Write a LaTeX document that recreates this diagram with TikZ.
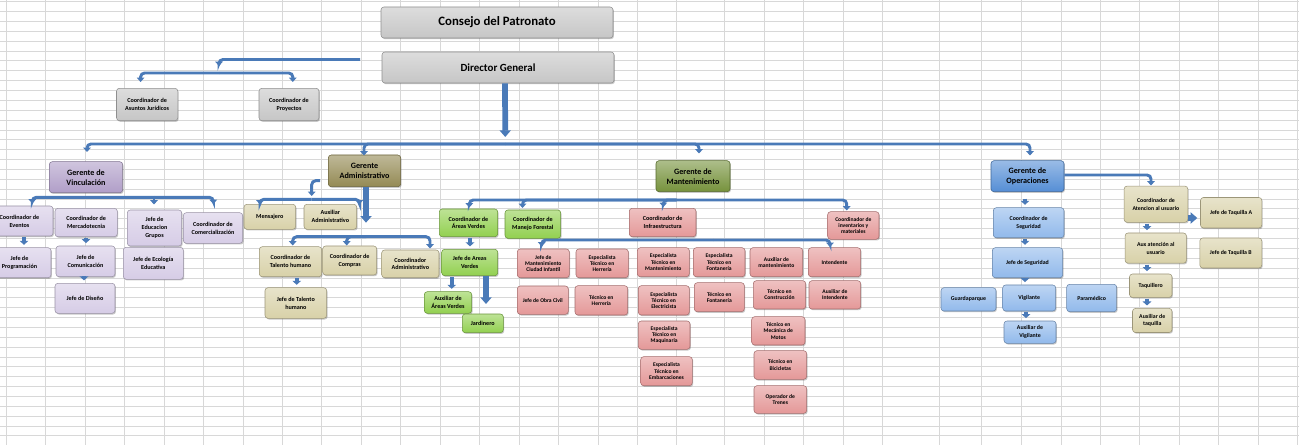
\documentclass[tikz,border=0pt]{standalone}
\usepackage{fontspec}
\setmainfont{Carlito}
\usetikzlibrary{arrows.meta,calc,shadows}
\definecolor{gridc}{RGB}{216,216,216}
\definecolor{lnc}{RGB}{74,122,184}
\definecolor{cgray}{RGB}{198,198,198}
\definecolor{cpurD}{RGB}{176,158,200}
\definecolor{cpur}{RGB}{214,204,230}
\definecolor{coliveD}{RGB}{148,138,84}
\definecolor{cbeige}{RGB}{216,209,168}
\definecolor{cgreenD}{RGB}{118,146,60}
\definecolor{cgreen}{RGB}{146,208,80}
\definecolor{cpink}{RGB}{228,152,152}
\definecolor{cblueD}{RGB}{85,142,213}
\definecolor{cblue}{RGB}{145,185,235}
\newcommand\bx[7]{%
  \pgfmathsetmacro\bxw{((#4)-(#2))*0.75}%
  \pgfmathsetmacro\bxh{((#5)-(#3))*0.75}%
  \pgfmathsetmacro\bxx{((#2)+(#4))/2}%
  \pgfmathsetmacro\bxy{((#3)+(#5))/2}%
  \node[#6, minimum width=\bxw pt, minimum height=\bxh pt] (#1) at (\bxx,\bxy) {#7};}
\tikzset{
  box/.style={rounded corners=2.2pt, inner sep=0pt, align=center, text=black,
    line width=0.4pt, drop shadow={shadow xshift=0.7pt, shadow yshift=-0.9pt, opacity=0.3, fill=black!70}},
  fillc/.style={box, draw=#1!72!black, top color=#1!60!white, bottom color=#1},
  fA/.style={font=\bfseries\fontsize{9.6}{11}\selectfont},
  fB/.style={font=\bfseries\fontsize{8.2}{10}\selectfont},
  fG/.style={font=\bfseries\fontsize{6.1}{7.5}\selectfont},
  sm/.style={font=\bfseries\fontsize{4.6}{5.9}\selectfont},
  sb/.style={font=\bfseries\fontsize{4.4}{5.9}\selectfont},
  gy/.style={fillc=cgray, sm},
  pu/.style={fillc=cpur, sm},
  be/.style={fillc=cbeige, sm},
  gr/.style={fillc=cgreen, sm},
  pk/.style={fillc=cpink, font=\bfseries\fontsize{4.2}{4.7}\selectfont},
  bl/.style={fillc=cblue, sb},
  ln/.style={draw=lnc, line width=2.2pt, rounded corners=3pt, -{Triangle[width=5.5pt,length=3.2pt]}},
  barrow/.style={draw=lnc, line width=3pt, shorten <=0.8pt, shorten >=2pt, -{Triangle[width=6.5pt,length=3pt]}},
  big/.style={draw=lnc, line width=4.3pt, -{Triangle[width=8.3pt,length=5pt]}},
}
\begin{document}
\begin{tikzpicture}[x=0.75pt,y=-0.75pt]
\path[use as bounding box] (0,0) rectangle (1299,445);
\clip (0,0) rectangle (1299,445);
\fill[white] (0,0) rectangle (1299,445);
% grid
\foreach \gx in {6.2,45.6,85,124.4,164.2,203.6,243.4,282.7,321.7,361.1,400.5,440.3,479.7,519.1,558.5,598.3,637.6,676.8,724.9,764.3,803.6,843.4,882.8,939.2,981.9,1021.3,1061.1,1100.5,1139.9,1179.3,1218.7,1258.1,1297.8}
  \draw[gridc, line width=0.75pt] (\gx,0) -- (\gx,445);
\foreach \k in {0,...,45}
  \draw[gridc, line width=0.75pt] (0,{1.7+9.87*\k}) -- (1299,{1.7+9.87*\k});

% top
\bx{consejo}{381}{7}{613}{38}{fillc=cgray, fA}{Consejo del Patronato}
\bx{director}{382}{52}{614}{83}{fillc=cgray, fB}{Director General}
\bx{asj}{116.5}{88.3}{177.8}{120.7}{gy}{Coordinador de\\Asuntos Jurídicos}
\bx{proy}{259}{88.3}{319}{120.7}{gy}{Coordinador de\\Proyectos}

% Vinculacion
\bx{vinc}{49.3}{161.7}{122.7}{192.7}{fillc=cpurD, fG}{Gerente de\\Vinculación}
\bx{eventos}{-14}{206}{53}{236}{pu}{Coordinador de\\Eventos}
\bx{merc}{55}{208.3}{117.3}{236.7}{pu}{Coordinador de\\Mercadotecnia}
\bx{edu}{127.3}{210}{181.7}{246}{pu}{Jefe de\\Educacion\\Grupos}
\bx{comer}{183.3}{212.7}{242.7}{243.3}{pu}{Coordinador de\\Comercialización}
\bx{prog}{-12}{247.7}{51}{277.7}{pu}{Jefe de\\Programación}
\bx{comu}{56}{246}{115}{276.7}{pu}{Jefe de\\Comunicación}
\bx{eco}{123.3}{247.3}{183.3}{279.3}{pu}{Jefe de Ecología\\Educativa}
\bx{dis}{55}{283.3}{115}{313.3}{pu}{Jefe de Diseño}

% Administrativo
\bx{gadm}{328.3}{155}{400.7}{186.7}{fillc=coliveD, fG}{Gerente\\Administrativo}
\bx{mens}{244}{204.3}{295.7}{229.3}{be}{Mensajero}
\bx{auxadm}{304}{204.3}{356.7}{229.3}{be}{Auxiliar\\Administrativo}
\bx{cth}{259.3}{246.7}{321.7}{276.7}{be}{Coordinador de\\Talento humano}
\bx{comp}{322.7}{246}{376.7}{275}{be}{Coordinador de\\Compras}
\bx{cadm}{381.7}{250}{439}{277.7}{be}{Coordinador\\Administrativo}
\bx{jth}{265}{287.7}{326.7}{318.3}{be}{Jefe de Talento\\humano}

% Mantenimiento
\bx{gman}{656}{160.7}{730}{191.7}{fillc=cgreenD, fG}{Gerente de\\Mantenimiento}
\bx{cav}{439.3}{209}{497.7}{236.7}{gr}{Coordinador de\\Áreas Verdes}
\bx{cmf}{505}{210}{560.7}{238.3}{gr}{Coordinador de\\Manejo Forestal}
\bx{jav}{441.7}{249.3}{497.7}{275.7}{gr}{Jefe de Areas\\Verdes}
\bx{aav}{424.3}{291.7}{471.7}{313.3}{gr}{Auxiliar de\\Áreas Verdes}
\bx{jard}{462.3}{314}{503.3}{332.7}{gr}{Jardinero}
\bx{cinf}{629.3}{208.3}{696}{236.7}{fillc=cpink, sm}{Coordinador de\\Infraestructura}
\bx{cinv}{827.7}{211.7}{879}{239.3}{pk}{Coordinador de\\inventarios y\\materiales}
\bx{jmci}{517.3}{249}{569.3}{277.7}{pk}{Jefe de\\Mantenimiento\\Ciudad Infantil}
\bx{eth}{576}{249}{628.3}{277.7}{pk}{Especialista\\Técnico en\\Herrería}
\bx{etm}{637.3}{247.7}{689.3}{276.7}{pk}{Especialista\\Técnico en\\Mantenimiento}
\bx{etf}{693.3}{247.7}{745}{276.7}{pk}{Especialista\\Técnico en\\Fontanería}
\bx{joc}{517.3}{286}{568.3}{314.3}{pk}{Jefe de Obra Civil}
\bx{tHe}{575}{285.7}{627.7}{315}{pk}{Técnico en\\Herrería}
\bx{ete}{638.3}{285.7}{689.3}{315}{pk}{Especialista\\Técnico en\\Electricista}
\bx{tFo}{694.3}{282.7}{744.3}{311.7}{pk}{Técnico en\\Fontanería}
\bx{etq}{638.3}{321}{690}{349.3}{pk}{Especialista\\Técnico en\\Maquinaria}
\bx{etb}{640.7}{356.7}{692.3}{385.7}{pk}{Especialista\\Técnico en\\Embarcaciones}
\bx{aum}{750}{247.7}{802.7}{276.7}{pk}{Auxiliar de\\mantenimiento}
\bx{inte}{808.3}{247.7}{860.7}{276.7}{pk}{Intendente}
\bx{tco}{753.3}{280.7}{805.7}{309}{pk}{Técnico en\\Construcción}
\bx{ain}{809}{280.7}{860.7}{309}{pk}{Auxiliar de\\Intendente}
\bx{tmm}{751.7}{316.7}{805}{345}{pk}{Técnico en\\Mecánica de\\Motos}
\bx{tbi}{754}{350.7}{806.7}{379.3}{pk}{Técnico en\\Bicicletas}
\bx{otr}{754}{385.7}{806.7}{413.3}{pk}{Operador de\\Trenes}

% Operaciones
\bx{gop}{991}{160.7}{1064}{191.7}{fillc=cblueD, fG}{Gerente de\\Operaciones}
\bx{cseg}{993.3}{207.7}{1064}{237.7}{bl}{Coordinador de\\Seguridad}
\bx{jseg}{992.3}{247.7}{1062.7}{277.7}{bl}{Jefe de Seguridad}
\bx{guard}{941}{287.7}{996}{311}{bl}{Guardaparque}
\bx{vig}{1002.7}{285}{1055.7}{311}{bl}{Vigilante}
\bx{param}{1066.7}{284.3}{1116.7}{311.7}{bl}{Paramédico}
\bx{auxvig}{1004}{321}{1056}{343.3}{bl}{Auxiliar de\\Vigilante}
\bx{cat}{1124.1}{186.1}{1187.8}{222.3}{fillc=cbeige, sb}{Coordinador de\\Atencion al usuario}
\bx{jta}{1200.5}{197.5}{1261.8}{228}{fillc=cbeige, sb}{Jefe de Taquilla A}
\bx{jtb}{1199.8}{238}{1261.8}{268}{fillc=cbeige, sb}{Jefe de Taquilla B}
\bx{auxat}{1125.1}{233}{1186.4}{263.2}{fillc=cbeige, sb}{Aux atención al\\usuario}
\bx{taq}{1129.5}{274}{1172}{297.4}{fillc=cbeige, sb}{Taquillero}
\bx{auxtaq}{1132.5}{308.4}{1172}{332.5}{fillc=cbeige, sb}{Auxiliar de\\taquilla}

% ---------- connectors ----------
\coordinate (dl) at (360,59.5);
\coordinate (hubL) at (219,73);
\coordinate (hubM) at (505,144);
\coordinate (hubV) at (154,197.3);
\coordinate (a1) at (320,180.7);
\coordinate (hubA1) at (311.7,199.3);
\coordinate (hubA2) at (366,236.7);
\coordinate (hubMt) at (676.7,200);
\coordinate (hubI) at (713,240);

\draw[ln] (dl) -| (219,66);
\draw[ln] (hubL) -| (140.6,82);
\draw[ln] (hubL) -| (292.8,82);
\draw[big] ([xshift=5.25pt]director.south) -- (505.25,137);

\draw[ln] (hubM) -| (87,152);
\draw[ln] (hubM) -| (364,155.5);
\draw[ln] (hubM) -| (699,153.5);
\draw[ln] (hubM) -| (1030,155.5);

\draw[ln] (hubV) -| (32.3,203.5);
\draw[ln] (hubV) -| (213.3,204);
\draw[ln] (hubV) -- (154,204.5);
\draw[barrow] (eventos.south -| 24,0) -- (prog.north -| 24,0);
\draw[barrow] (merc.south -| 86,0) -- (comu.north -| 86,0);
\draw[barrow] (comu.south -| 84,0) -- (dis.north -| 84,0);

\draw[ln] (a1) -| (311.7,196);
\draw[ln] (hubA1) -| (260,204.5);
\draw[ln] (hubA1) -| (359.3,204.5);
\draw[big] (gadm.south -| 366,0) -- (366,222.7);
\draw[ln] (hubA2) -| (292.7,245.5);
\draw[ln] (hubA2) -| (346.7,245.5);
\draw[ln] (hubA2) -| (430,248.5);
\draw[barrow] (cth.south -| 296.7,0) -- (jth.north -| 296.7,0);

\draw[ln] (hubMt) -| (469.3,207.5);
\draw[ln] (hubMt) -| (522.5,208);
\draw[ln] (hubMt) -| (663.3,207);
\draw[ln] (hubMt) -| (846.7,210.5);
\draw[barrow] (cav.south -| 470,0) -- (jav.north -| 470,0);
\draw[barrow] (jav.south -| 451.7,0) -- (aav.north -| 451.7,0);
\draw[big] (jav.south -| 486,0) -- (486,304);
\draw[ln] (hubI) -| (541.7,246.5);
\draw[ln] (hubI) -| (830,247);

\draw[barrow, shorten <=5pt] (gop.south -| 1025,0) -- (cseg.north -| 1025,0);
\draw[barrow] (cseg.south -| 1025,0) -- (jseg.north -| 1025,0);
\draw[barrow] (jseg.south -| 1025,0) -- (vig.north -| 1025,0);
\draw[barrow] (vig.south -| 1026,0) -- (auxvig.north -| 1026,0);

\draw[ln] (gop.east |- 0,175) -| (1151,185.5);
\draw[big, shorten >=2.2pt] (cat.east |- 0,218) -- (jta.west |- 0,218);
\draw[barrow] (cat.south -| 1147,0) -- (auxat.north -| 1147,0);
\draw[barrow] (auxat.south -| 1147,0) -- (taq.north -| 1147,0);
\draw[barrow] (taq.south -| 1147,0) -- (auxtaq.north -| 1147,0);
\end{tikzpicture}
\end{document}
